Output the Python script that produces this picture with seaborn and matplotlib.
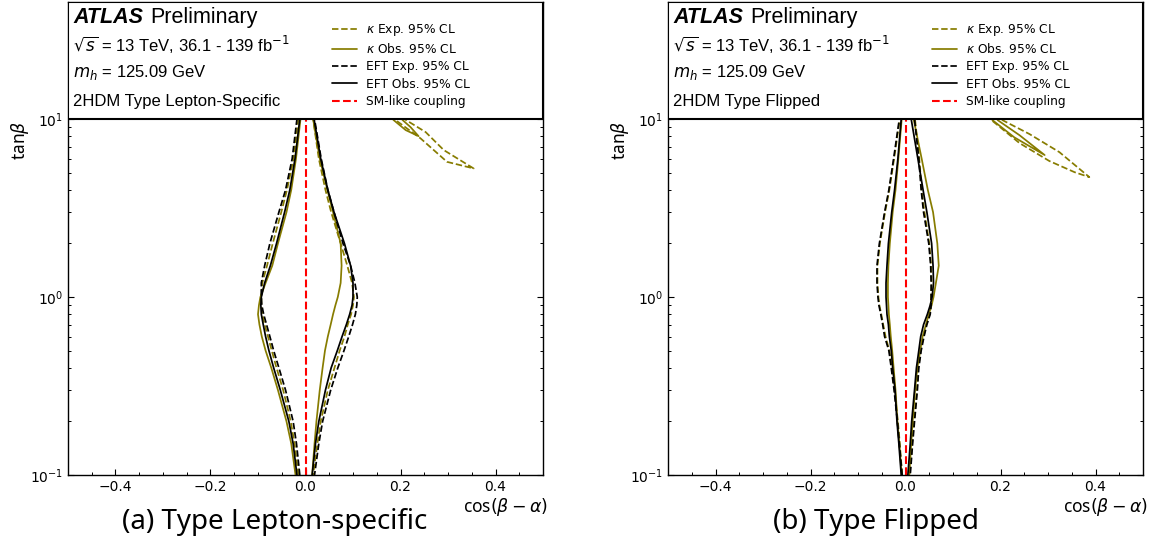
import matplotlib
matplotlib.use("Agg")
import matplotlib.pyplot as plt
import seaborn as sns
from matplotlib.ticker import MultipleLocator

# tan(beta) levels at which the band edges were read
tanb = [0.1, 0.15, 0.2, 0.3, 0.4, 0.5, 0.6, 0.7, 0.8, 0.9, 1.0, 1.2, 1.5, 2, 3, 4, 6, 10, 20]

# --- (a) Lepton-specific: cos(beta-alpha) of left / right edge ---
ls_kexp_left = [-0.015, -0.023, -0.031, -0.047, -0.061, -0.071, -0.079, -0.086, -0.091, -0.093,
                -0.093, -0.091, -0.081, -0.069, -0.051, -0.039, -0.025, -0.015, -0.011]
ls_kexp_right = [0.016, 0.025, 0.032, 0.047, 0.061, 0.072, 0.082, 0.089, 0.096, 0.100,
                 0.102, 0.098, 0.088, 0.074, 0.054, 0.042, 0.028, 0.016, 0.012]
ls_kobs_left = [-0.021, -0.030, -0.040, -0.058, -0.072, -0.084, -0.092, -0.097, -0.100, -0.098,
                -0.095, -0.084, -0.070, -0.058, -0.040, -0.030, -0.020, -0.0105, -0.007]
ls_kobs_right = [0.014, 0.019, 0.023, 0.030, 0.036, 0.041, 0.047, 0.053, 0.058, 0.063,
                 0.068, 0.074, 0.076, 0.074, 0.058, 0.046, 0.030, 0.016, 0.012]
ls_eexp_left = [-0.012, -0.019, -0.026, -0.042, -0.056, -0.067, -0.075, -0.082, -0.088, -0.092,
                -0.093, -0.093, -0.086, -0.075, -0.056, -0.042, -0.028, -0.018, -0.012]
ls_eexp_right = [0.019, 0.028, 0.036, 0.053, 0.068, 0.081, 0.091, 0.099, 0.105, 0.108,
                 0.109, 0.104, 0.095, 0.079, 0.060, 0.047, 0.033, 0.019, 0.0125]
ls_eobs_left = [-0.018, -0.026, -0.035, -0.053, -0.067, -0.077, -0.084, -0.089, -0.093, -0.094,
                -0.093, -0.086, -0.074, -0.061, -0.044, -0.033, -0.022, -0.012, -0.0085]
ls_eobs_right = [0.014, 0.021, 0.028, 0.042, 0.054, 0.067, 0.077, 0.086, 0.093, 0.098,
                 0.100, 0.100, 0.095, 0.082, 0.060, 0.047, 0.032, 0.018, 0.0125]

# wrong-sign lobes (kappa only)
ls_kexp_lobe_cos = [0.175, 0.189, 0.242, 0.298, 0.354, 0.291, 0.253, 0.211, 0.198]
ls_kexp_lobe_tanb = [12, 9.9, 7.8, 5.75, 5.28, 6.7, 8.45, 9.9, 12]
ls_kobs_lobe_cos = [0.178, 0.185, 0.211, 0.238, 0.221, 0.204, 0.196]
ls_kobs_lobe_tanb = [12, 9.9, 8.67, 8.02, 9.02, 9.9, 12]

# --- (b) Flipped ---
fl_kexp_left = [-0.007, -0.012, -0.016, -0.023, -0.029, -0.034, -0.042, -0.047, -0.051, -0.055,
                -0.057, -0.059, -0.059, -0.054, -0.043, -0.034, -0.024, -0.012, -0.008]
fl_kexp_right = [0.009, 0.014, 0.018, 0.024, 0.027, 0.032, 0.038, 0.044, 0.051, 0.053,
                 0.054, 0.055, 0.054, 0.050, 0.040, 0.034, 0.029, 0.020, 0.015]
fl_kobs_left = [-0.008, -0.013, -0.017, -0.021, -0.025, -0.028, -0.031, -0.033, -0.035, -0.036,
                -0.037, -0.037, -0.036, -0.033, -0.027, -0.021, -0.015, -0.008, -0.005]
fl_kobs_right = [0.008, 0.012, 0.015, 0.020, 0.025, 0.031, 0.036, 0.043, 0.049, 0.055,
                 0.059, 0.064, 0.070, 0.067, 0.058, 0.047, 0.034, 0.017, 0.012]
fl_eexp_left = [-0.007, -0.013, -0.017, -0.024, -0.030, -0.035, -0.044, -0.048, -0.052, -0.056,
                -0.058, -0.060, -0.060, -0.055, -0.044, -0.035, -0.025, -0.013, -0.009]
fl_eexp_right = [0.010, 0.015, 0.019, 0.025, 0.028, 0.033, 0.039, 0.045, 0.052, 0.054,
                 0.054, 0.054, 0.053, 0.049, 0.038, 0.033, 0.028, 0.019, 0.014]
fl_eobs_left = [-0.009, -0.014, -0.018, -0.022, -0.027, -0.030, -0.034, -0.036, -0.039, -0.040,
                -0.041, -0.041, -0.039, -0.036, -0.029, -0.023, -0.016, -0.009, -0.006]
fl_eobs_right = [0.005, 0.010, 0.013, 0.019, 0.023, 0.028, 0.032, 0.038, 0.046, 0.052,
                 0.056, 0.059, 0.058, 0.055, 0.045, 0.037, 0.026, 0.012, 0.008]

fl_kexp_lobe_cos = [0.165, 0.181, 0.240, 0.303, 0.356, 0.387, 0.324, 0.261, 0.204, 0.19]
fl_kexp_lobe_tanb = [12, 9.87, 7.33, 5.81, 5.03, 4.72, 6.52, 8.24, 9.87, 12]
fl_kobs_lobe_cos = [0.172, 0.183, 0.229, 0.293, 0.240, 0.194, 0.185]
fl_kobs_lobe_tanb = [12, 9.87, 7.9, 6.28, 8.12, 9.87, 12]

sm_cos = [0.0, 0.0]
sm_tanb = [0.1, 20]

labels = [r"$\kappa$ Exp. 95% CL", r"$\kappa$ Obs. 95% CL",
          "EFT Exp. 95% CL", "EFT Obs. 95% CL", "SM-like coupling"]
panel_names = ["2HDM Type Lepton-Specific", "2HDM Type Flipped"]
captions = ["(a) Type Lepton-specific", "(b) Type Flipped"]

OLIVE = "#877c00"

sns.set_style("ticks", {"axes.edgecolor": "black", "text.color": "black",
                        "xtick.color": "black", "ytick.color": "black",
                        "axes.labelcolor": "black"})
plt.rcParams["font.family"] = ["DejaVu Sans"]


def band(ax, left, right, color, ls, label):
    x = list(left) + list(right)[::-1]
    y = tanb + tanb[::-1]
    sns.lineplot(x=x, y=y, sort=False, estimator=None, color=color,
                 linestyle=ls, linewidth=1.25, label=label, ax=ax)


def lobe(ax, xs, ys, ls):
    sns.lineplot(x=xs, y=ys, sort=False, estimator=None, color=OLIVE,
                 linestyle=ls, linewidth=1.25, label="_nolegend_", ax=ax)


fig = plt.figure(figsize=(11.58, 5.45), dpi=100)
ax_a = fig.add_axes([68 / 1158, 70 / 545, 475 / 1158, 473 / 545])
ax_b = fig.add_axes([668 / 1158, 70 / 545, 475 / 1158, 473 / 545])

panels = [
    (ax_a, [(ls_kexp_left, ls_kexp_right), (ls_kobs_left, ls_kobs_right),
            (ls_eexp_left, ls_eexp_right), (ls_eobs_left, ls_eobs_right)],
     (ls_kexp_lobe_cos, ls_kexp_lobe_tanb), (ls_kobs_lobe_cos, ls_kobs_lobe_tanb)),
    (ax_b, [(fl_kexp_left, fl_kexp_right), (fl_kobs_left, fl_kobs_right),
            (fl_eexp_left, fl_eexp_right), (fl_eobs_left, fl_eobs_right)],
     (fl_kexp_lobe_cos, fl_kexp_lobe_tanb), (fl_kobs_lobe_cos, fl_kobs_lobe_tanb)),
]
styles = [(OLIVE, "--"), (OLIVE, "-"), ("black", "--"), ("black", "-")]

ytop = 45.5
for i, (ax, bands, lobe_exp, lobe_obs) in enumerate(panels):
    for (left, right), (c, ls), lab in zip(bands, styles, labels):
        band(ax, left, right, c, ls, lab)
    sns.lineplot(x=sm_cos, y=sm_tanb, sort=False, estimator=None, color="red",
                 linestyle="--", linewidth=1.5, label=labels[4], ax=ax)
    lobe(ax, lobe_exp[0], lobe_exp[1], "--")
    lobe(ax, lobe_obs[0], lobe_obs[1], "-")

    ax.set_yscale("log")
    ax.set_xlim(-0.5, 0.5)
    ax.set_ylim(0.1, ytop)
    ax.xaxis.set_major_locator(MultipleLocator(0.2))
    ax.xaxis.set_minor_locator(MultipleLocator(0.05))
    ax.tick_params(which="both", direction="in", right=True, top=False,
                   labelsize=10)
    ax.tick_params(which="major", length=4, width=0.8)
    ax.tick_params(which="minor", length=2.5, width=0.7)
    for sp in ax.spines.values():
        sp.set_linewidth(1.0)

    # white header box covering tan(beta) > 10
    ax.axhspan(10, ytop, facecolor="white", edgecolor="black", lw=1.5, zorder=4)

    tkw = dict(transform=ax.transAxes, va="center", zorder=6, family="Liberation Sans")
    ax.text(0.0105, 0.968, "ATLAS", fontsize=15.5, fontweight="bold",
            fontstyle="italic", **tkw)
    ax.text(0.1726, 0.968, "Preliminary", fontsize=15.5, **tkw)
    ax.text(0.0105, 0.909, r"$\sqrt{s}$ = 13 TeV, 36.1 - 139 fb$^{-1}$", fontsize=12, **tkw)
    ax.text(0.0105, 0.850, r"$m_h$ = 125.09 GeV", fontsize=12, **tkw)
    ax.text(0.0105, 0.789, panel_names[i], fontsize=12, **tkw)

    leg = ax.legend(loc="upper left", bbox_to_anchor=(0.556, 0.958), frameon=False,
                    borderpad=0, borderaxespad=0, handlelength=2.0,
                    handletextpad=0.75, labelspacing=0.35, fontsize=8.8)
    leg.set_zorder(6)

    ax.set_xlabel(r"cos$(\beta-\alpha)$", fontsize=12.5, family="Noto Sans",
                  ha="right")
    ax.xaxis.set_label_coords(1.01, -0.045)
    ax.set_ylabel(r"tan$\beta$", fontsize=12.5, family="Noto Sans")
    ax.yaxis.set_label_coords(-0.078, 0.708)

fig.text(275 / 1158, 23 / 545, captions[0], fontsize=20, family="Noto Sans",
         ha="center", va="center")
fig.text(876 / 1158, 23 / 545, captions[1], fontsize=20, family="Noto Sans",
         ha="center", va="center")

fig.savefig("out.png", dpi=100)
